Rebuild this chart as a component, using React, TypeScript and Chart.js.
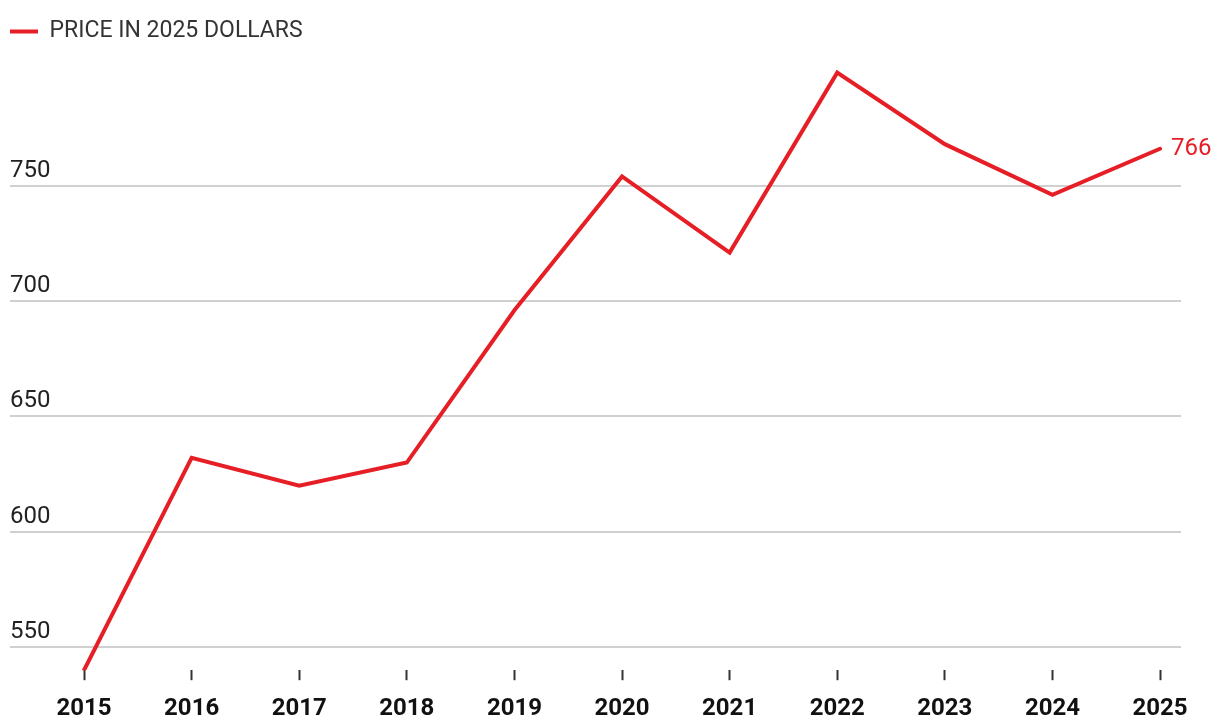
import React, { useEffect, useRef } from "react";
import { Chart, registerables } from "chart.js";

Chart.register(...registerables);

const years = [2015, 2016, 2017, 2018, 2019, 2020, 2021, 2022, 2023, 2024, 2025];
const prices = [540, 632, 620, 630, 696, 754, 721, 799, 768, 746, 766];
const yTicks = [550, 600, 650, 700, 750];
const seriesLabel = "PRICE IN 2025 DOLLARS";
const RED = "#e61e25";

const endLabelPlugin = {
  id: "endLabel",
  afterDatasetsDraw(chart: any) {
    const meta = chart.getDatasetMeta(0);
    const last = meta.data[meta.data.length - 1];
    if (!last) return;
    const ctx = chart.ctx;
    ctx.save();
    ctx.font = "24px Roboto";
    ctx.fillStyle = RED;
    ctx.textAlign = "left";
    ctx.textBaseline = "middle";
    ctx.fillText(String(prices[prices.length - 1]), last.x + 11, last.y);
    ctx.restore();
  },
};

export default function App() {
  const ref = useRef<HTMLCanvasElement | null>(null);
  useEffect(() => {
    if (!ref.current) return;
    const chart = new Chart(ref.current, {
      type: "line",
      data: {
        datasets: [
          {
            label: seriesLabel,
            data: years.map((y, i) => ({ x: y, y: prices[i] })),
            borderColor: RED,
            backgroundColor: RED,
            borderWidth: 4,
            pointRadius: 0,
            borderCapStyle: "round",
            borderJoinStyle: "miter",
            tension: 0,
          },
        ],
      },
      options: {
        animation: false,
        responsive: true,
        maintainAspectRatio: false,
        layout: { padding: { left: 2, right: 31, top: 12, bottom: -17 } },
        plugins: {
          legend: {
            display: true,
            position: "top",
            align: "start",
            labels: {
              usePointStyle: true,
              pointStyle: "line",
              pointStyleWidth: 28,
              boxHeight: 23,
              color: "#333333",
              font: { family: "Roboto", size: 23 },
              padding: 0,
            },
          },
          tooltip: { enabled: false },
        },
        scales: {
          x: {
            type: "linear",
            min: 2014.312,
            max: 2025.195,
            afterBuildTicks: (scale: any) => {
              scale.ticks = years.map((v) => ({ value: v }));
            },
            grid: {
              display: true,
              drawOnChartArea: false,
              drawTicks: true,
              tickLength: 10,
              tickColor: "#333333",
              tickWidth: 2,
            },
            border: { display: false },
            ticks: {
              color: "#111111",
              font: { family: "Roboto", size: 24, weight: "bold" },
              padding: 14,
              maxRotation: 0,
              autoSkip: false,
              callback: (v: any) => String(v),
            },
          },
          y: {
            type: "linear",
            min: 540,
            max: 807.5,
            afterBuildTicks: (scale: any) => {
              scale.ticks = yTicks.map((v) => ({ value: v }));
            },
            grid: {
              color: "#d0d0d0",
              lineWidth: 2,
              drawTicks: false,
            },
            border: { display: false },
            ticks: {
              mirror: true,
              padding: 0,
              labelOffset: -15,
              color: "#222222",
              font: { family: "Roboto", size: 24 },
            },
          },
        },
      },
      plugins: [endLabelPlugin],
    });
    return () => chart.destroy();
  }, []);
  return (
    <div style={{ width: 1204, height: 712, position: "relative" }}>
      <canvas ref={ref} />
    </div>
  );
}
